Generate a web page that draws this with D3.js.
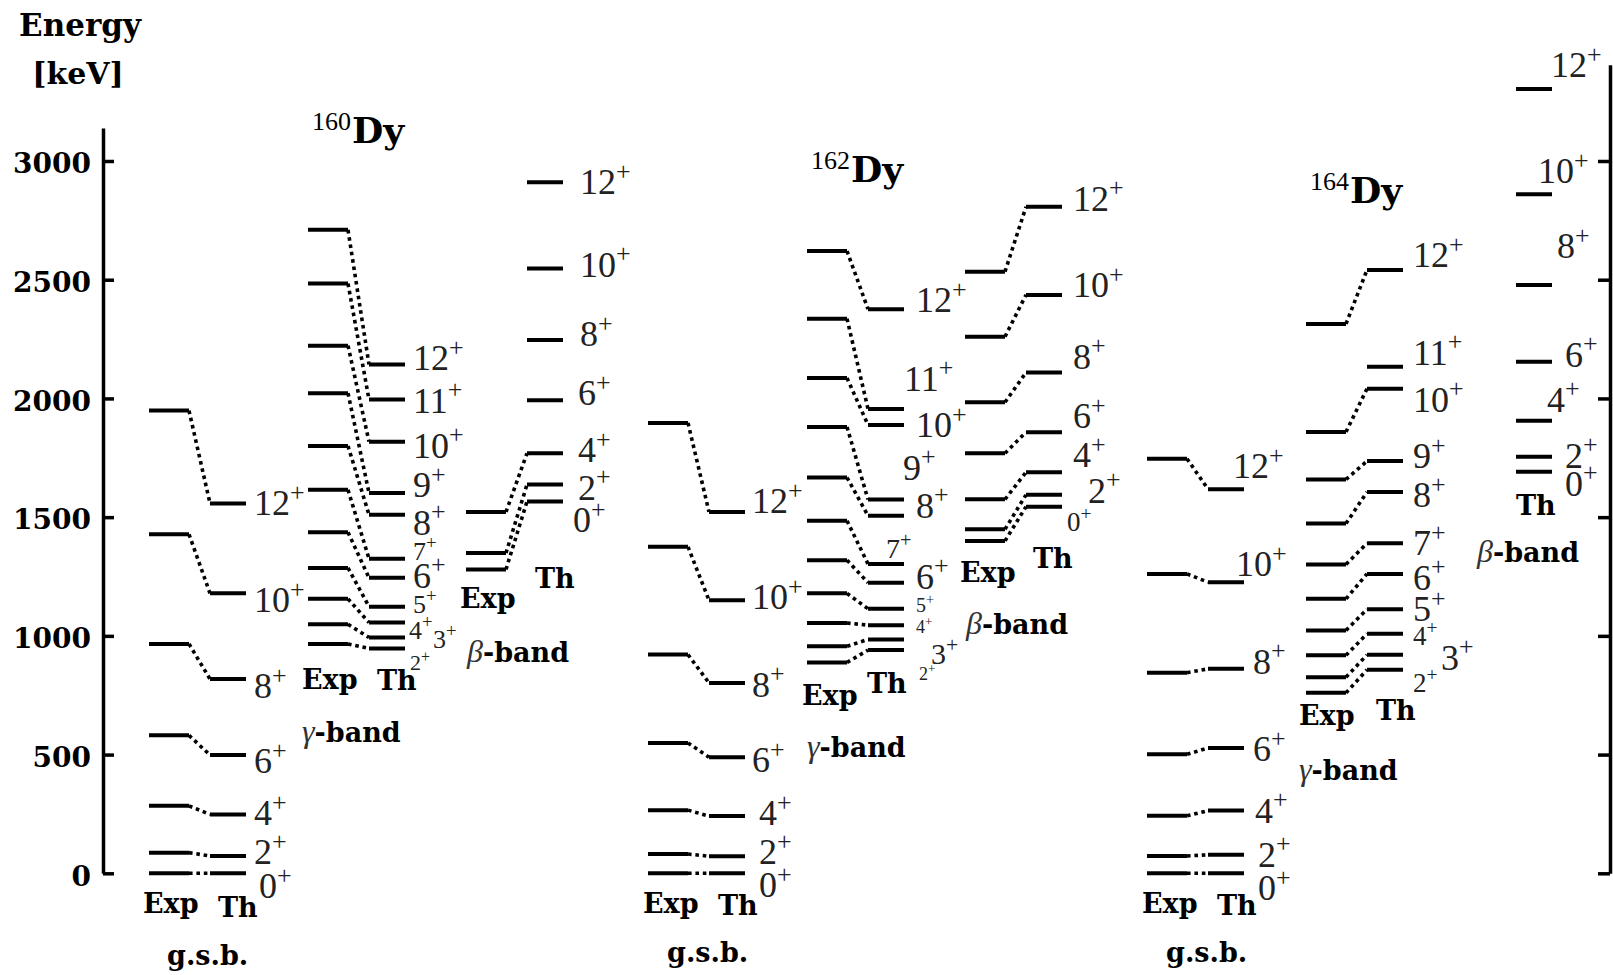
<!DOCTYPE html>
<html lang="en">
<head>
<meta charset="UTF-8">
<title>Dy level schemes</title>
<script src="https://cdn.jsdelivr.net/npm/d3@7/dist/d3.min.js"></script>
<style>
  body { margin: 0; background: #fff; }
</style>
</head>
<body>
<script>
// ---- data (keV) ----
const isotopes = ["160", "162", "164"];
const evenSpins = [0, 2, 4, 6, 8, 10, 12];
const gammaSpins = [2, 3, 4, 5, 6, 7, 8, 9, 10, 11, 12];
const gammaSpins164Exp = [2, 3, 4, 5, 6, 7, 8, 9, 10, 12];
const beta160ExpSpins = [0, 2, 4];
const yTicks = [0, 500, 1000, 1500, 2000, 2500, 3000];

// 160Dy
const gsbExp160 = [0, 87, 284, 581, 966, 1428, 1949];
const gsbTh160 = [0, 73, 248, 498, 818, 1179, 1558];
const gamExp160 = [966, 1049, 1156, 1286, 1436, 1615, 1800, 2022, 2222, 2484, 2710];
const gamTh160 = [947, 993, 1056, 1123, 1245, 1325, 1510, 1602, 1818, 1995, 2143];
const betExp160 = [1280, 1349, 1522];
const betTh160 = [1566, 1637, 1769, 1992, 2246, 2547, 2910];

// 162Dy
const gsbExp162 = [0, 81, 266, 549, 921, 1375, 1897];
const gsbTh162 = [0, 72, 241, 489, 802, 1150, 1522];
const gamExp162 = [888, 956, 1054, 1179, 1319, 1485, 1667, 1880, 2086, 2336, 2621];
const gamTh162 = [940, 985, 1045, 1114, 1224, 1303, 1506, 1574, 1888, 1956, 2376];
const betExp162 = [1400, 1449, 1575, 1769, 1984, 2260, 2534];
const betTh162 = [1544, 1594, 1689, 1858, 2109, 2436, 2807];

// 164Dy
const gsbExp164 = [0, 73, 242, 501, 845, 1261, 1746];
const gsbTh164 = [0, 78, 264, 528, 861, 1226, 1618];
const gamExp164 = [760, 826, 918, 1023, 1156, 1301, 1473, 1659, 1859, 2314];
const gamTh164 = [857, 920, 1009, 1112, 1261, 1390, 1606, 1736, 2041, 2133, 2541];
const betTh164 = [1691, 1754, 1906, 2155, 2478, 2860, 3303];

// ---- layout ----
const width = 1613, height = 975;
const boldFont = "'DejaVu Serif', serif";
const romanFont = "'Liberation Serif', 'Times New Roman', serif";
const isoShift = [0, 499, 998];
const colX = { gsb: 149, gam: 308, bet: 466 };
const thGap = 61, expLen = 40, thLen = 36;
const L = 36;

const y = d3.scaleLinear().domain([0, 3000]).range([873.3, 161]);

const bands = [
  { iso: 0, col: "gsb", expSpins: evenSpins, exp: gsbExp160, thSpins: evenSpins, th: gsbTh160,
    name: "g.s.b.", tags: { exp: [-6, 913], th: [69, 917], name: [18, 965] },
    lab: { dx: [13, 8, 8, 8, 8, 8, 8], dy: [25, 8, 11, 18, 19, 19, 12], size: [L, L, L, L, L, L, L] } },
  { iso: 0, col: "gam", expSpins: gammaSpins, exp: gamExp160, thSpins: gammaSpins, th: gamTh160,
    name: "γ", tags: { exp: [-6, 689], th: [69, 690], name: [-6, 742] },
    lab: { dx: [5, 28, 4, 8, 8, 8, 8, 8, 8, 8, 8], dy: [22, 10, 16, 6, 10, 1, 20, 4, 16, 13, 6],
           size: [22, 26, 26, 26, L, 26, L, L, L, L, L] } },
  { iso: 0, col: "bet", expSpins: beta160ExpSpins, exp: betExp160, thSpins: evenSpins, th: betTh160,
    name: "β", tags: { exp: [-6, 608], th: [69, 588], name: [1, 662] },
    lab: { dx: [10, 15, 15, 15, 17, 17, 17], dy: [31, 15, 9, 5, 6, 8, 12], size: [L, L, L, L, L, L, L] } },

  { iso: 1, col: "gsb", expSpins: evenSpins, exp: gsbExp162, thSpins: evenSpins, th: gsbTh162,
    name: "g.s.b.", tags: { exp: [-5, 913], th: [70, 915], name: [19, 962] },
    lab: { dx: [14, 14, 14, 7, 7, 7, 7], dy: [24, 8, 9, 15, 14, 9, 1], size: [L, L, L, L, L, L, L] } },
  { iso: 1, col: "gam", expSpins: gammaSpins, exp: gamExp162, thSpins: gammaSpins, th: gamTh162,
    name: "γ", tags: { exp: [-5, 705], th: [60, 693], name: [0, 757] },
    lab: { dx: [15, 27, 12, 12, 12, -18, 12, -1, 12, 0, 12], dy: [30, 25, 8, 3, 6, -6, 2, -20, 12, -18, 3],
           size: [18, 30, 18, 20, L, 28, L, L, L, L, L] } },
  { iso: 1, col: "bet", expSpins: evenSpins, exp: betExp162, thSpins: evenSpins, th: betTh162,
    name: "β", tags: { exp: [-5, 582], th: [68, 568], name: [1, 634] },
    lab: { dx: [5, 26, 11, 11, 11, 11, 11], dy: [24, 8, -5, -4, -4, 2, 4], size: [27, L, L, L, L, L, L] } },

  { iso: 2, col: "gsb", expSpins: evenSpins, exp: gsbExp164, thSpins: evenSpins, th: gsbTh164,
    name: "g.s.b.", tags: { exp: [-5, 913], th: [70, 915], name: [19, 962] },
    lab: { dx: [14, 14, 11, 9, 9, -8, -11], dy: [27, 12, 12, 13, 5, -6, -11], size: [L, L, L, L, L, L, L] } },
  { iso: 2, col: "gam", expSpins: gammaSpins164Exp, exp: gamExp164, thSpins: gammaSpins, th: gamTh164,
    name: "γ", tags: { exp: [-7, 725], th: [70, 720], name: [-7, 780] },
    lab: { dx: [10, 38, 10, 10, 10, 10, 10, 10, 10, 10, 10], dy: [22, 15, 11, 12, 16, 12, 15, 7, 23, -2, -3],
           size: [27, L, 27, L, L, L, L, L, L, L, L] } },
  { iso: 2, col: "bet", expSpins: [], exp: [], thSpins: evenSpins, th: betTh164, thFix: -9,
    name: "β", tags: { th: [52, 515], name: [13, 562] },
    lab: { dx: [13, 13, -5, 13, 5, -14, -1], dy: [24, 11, -9, 5, -27, -11, -12], size: [L, L, L, L, L, L, L] } }
];

// ---- svg ----
const svg = d3.select("body").append("svg")
  .attr("width", width)
  .attr("height", height);
svg.append("rect").attr("width", width).attr("height", height).attr("fill", "#fff");

// left axis
const yLeft = y.copy().domain([0, 3139]).range([y(0), y(3139)]);
const leftAxis = svg.append("g")
  .attr("transform", "translate(103,0)")
  .call(d3.axisLeft(yLeft).tickValues(yTicks).tickSize(-11).tickSizeOuter(0).tickPadding(12)
    .tickFormat(d3.format("d")));
leftAxis.select(".domain").attr("stroke", "#000").attr("stroke-width", 3.5);
leftAxis.selectAll(".tick line").attr("stroke", "#000").attr("stroke-width", 3.5);
leftAxis.selectAll(".tick text")
  .attr("font-family", boldFont).attr("font-weight", "bold").attr("font-size", 28)
  .attr("fill", "#000").attr("dy", "0.42em");

// right axis
const yRight = y.copy().domain([0, 3405]).range([y(0), y(3405)]);
const rightAxis = svg.append("g")
  .attr("transform", "translate(1610,0)")
  .call(d3.axisRight(yRight).tickValues(yTicks).tickSize(-12).tickSizeOuter(0).tickFormat(""));
rightAxis.select(".domain").attr("stroke", "#000").attr("stroke-width", 3.5);
rightAxis.selectAll(".tick line").attr("stroke", "#000").attr("stroke-width", 3.5);

// axis title
svg.append("text").attr("x", 80).attr("y", 36).attr("text-anchor", "middle")
  .attr("font-family", boldFont).attr("font-weight", "bold").attr("font-size", 31)
  .text("Energy");
svg.append("text").attr("x", 78).attr("y", 84).attr("text-anchor", "middle")
  .attr("font-family", boldFont).attr("font-weight", "bold").attr("font-size", 30)
  .text("[keV]");

// isotope names
const isoPos = [[312, 143], [811, 182], [1310, 203]];
isotopes.forEach((a, i) => {
  const t = svg.append("text").attr("x", isoPos[i][0]).attr("y", isoPos[i][1]);
  t.append("tspan").attr("font-family", romanFont).attr("font-size", 26).attr("dy", -13).text(a);
  t.append("tspan").attr("font-family", boldFont).attr("font-weight", "bold").attr("font-size", 36)
    .attr("dy", 13).attr("dx", 1).text("Dy");
});

function spinLabel(g, x, yb, spin, size) {
  const t = g.append("text").attr("x", x).attr("y", yb)
    .attr("font-family", romanFont).attr("font-size", size).attr("fill", "#222");
  t.append("tspan").text(spin);
  t.append("tspan").attr("font-size", size * 0.72).attr("dy", -size * 0.4).text("+");
}

function boldTag(g, x, yb, txt) {
  g.append("text").attr("x", x).attr("y", yb)
    .attr("font-family", boldFont).attr("font-weight", "bold").attr("font-size", 27)
    .text(txt);
}

bands.forEach(b => {
  const g = svg.append("g");
  const ex = colX[b.col] + isoShift[b.iso];
  const tx = ex + thGap + (b.thFix || 0);

  const thBySpin = new Map(b.thSpins.map((s, i) => [s, b.th[i]]));

  // dotted links exp -> th
  g.selectAll("line.link")
    .data(b.expSpins.map((s, i) => ({ s, e: b.exp[i], t: thBySpin.get(s) })))
    .join("line")
    .attr("class", "link")
    .attr("x1", ex + expLen).attr("y1", d => y(d.e))
    .attr("x2", tx).attr("y2", d => y(d.t))
    .attr("stroke", "#000").attr("stroke-width", 3.6)
    .attr("stroke-dasharray", "3.6 3.8");

  // experimental levels
  g.selectAll("line.exp")
    .data(b.exp)
    .join("line")
    .attr("class", "exp")
    .attr("x1", ex).attr("x2", ex + expLen)
    .attr("y1", d => y(d)).attr("y2", d => y(d))
    .attr("stroke", "#000").attr("stroke-width", 4);

  // theoretical levels
  g.selectAll("line.th")
    .data(b.th)
    .join("line")
    .attr("class", "th")
    .attr("x1", tx).attr("x2", tx + thLen)
    .attr("y1", d => y(d)).attr("y2", d => y(d))
    .attr("stroke", "#000").attr("stroke-width", 4);

  // spin labels
  b.thSpins.forEach((s, i) => {
    spinLabel(g, tx + thLen + b.lab.dx[i], y(b.th[i]) + b.lab.dy[i], s, b.lab.size[i]);
  });

  // Exp / Th / band names
  if (b.tags.exp) boldTag(g, ex + b.tags.exp[0], b.tags.exp[1], "Exp");
  boldTag(g, ex + b.tags.th[0], b.tags.th[1], "Th");
  const nt = g.append("text").attr("x", ex + b.tags.name[0]).attr("y", b.tags.name[1])
    .attr("font-family", boldFont).attr("font-size", 27);
  if (b.name === "g.s.b.") {
    nt.attr("font-weight", "bold").text("g.s.b.");
  } else {
    nt.append("tspan").attr("font-family", romanFont).attr("font-style", "italic")
      .attr("font-size", 32).attr("fill", "#333").text(b.name);
    nt.append("tspan").attr("font-weight", "bold").text("-band");
  }
});
</script>
</body>
</html>
